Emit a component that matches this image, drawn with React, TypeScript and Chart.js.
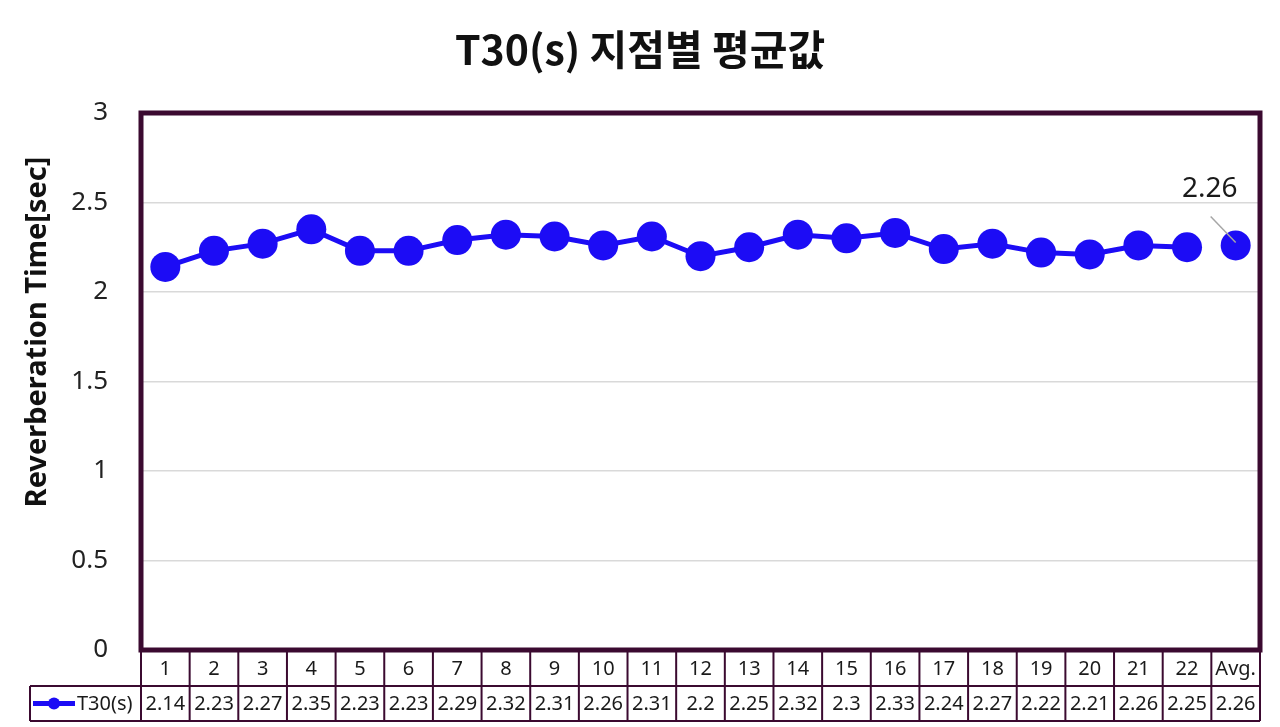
import React, { useEffect, useRef } from "react";
import { Chart, registerables } from "chart.js";

Chart.register(...registerables);

const categories = ["1","2","3","4","5","6","7","8","9","10","11","12","13","14","15","16","17","18","19","20","21","22","Avg."];
const pointValues = [2.14,2.23,2.27,2.35,2.23,2.23,2.29,2.32,2.31,2.26,2.31,2.2,2.25,2.32,2.3,2.33,2.24,2.27,2.22,2.21,2.26,2.25];
const avgValue = 2.26;
const tableValues = ["2.14","2.23","2.27","2.35","2.23","2.23","2.29","2.32","2.31","2.26","2.31","2.2","2.25","2.32","2.3","2.33","2.24","2.27","2.22","2.21","2.26","2.25","2.26"];
const seriesName = "T30(s)";
const chartTitle = "T30(s) 지점별 평균값";
const yTitle = "Reverberation Time[sec]";

const BLUE = "#1c0cf5";
const FRAME = "#3b0a30";
const FONT = "'Noto Sans', 'Noto Sans CJK KR', sans-serif";
const KFONT = "'Noto Sans CJK KR', 'Noto Sans', sans-serif";

const overlay = {
  id: "overlay",
  afterDraw(chart: any) {
    const { ctx, chartArea } = chart;
    const { left, right, top, bottom } = chartArea;
    const xs = chart.scales.x;
    const n = categories.length;
    const colW = (right - left) / n;
    ctx.save();

    // title
    ctx.fillStyle = "#111";
    ctx.font = `bold 41px ${KFONT}`;
    ctx.textAlign = "center";
    ctx.textBaseline = "middle";
    ctx.fillText(chartTitle, 640, 49);

    // y title
    ctx.save();
    ctx.translate(38, 332);
    ctx.rotate(-Math.PI / 2);
    ctx.font = `bold 29px ${FONT}`;
    ctx.fillText(yTitle, 0, 0);
    ctx.restore();

    // frame
    ctx.strokeStyle = FRAME;
    ctx.lineWidth = 5;
    ctx.strokeRect(left, top, right - left, bottom - top);

    // table
    const r1 = bottom;
    const r2 = 686;
    const r3 = 721;
    const tableLeft = 30;
    ctx.lineWidth = 2;
    ctx.beginPath();
    ctx.moveTo(tableLeft, r2);
    ctx.lineTo(right, r2);
    ctx.moveTo(tableLeft, r3);
    ctx.lineTo(right, r3);
    ctx.moveTo(tableLeft, r2);
    ctx.lineTo(tableLeft, r3);
    for (let i = 0; i <= n; i++) {
      const x = left + i * colW;
      ctx.moveTo(x, r1);
      ctx.lineTo(x, r3);
    }
    ctx.stroke();

    ctx.fillStyle = "#1a1a1a";
    ctx.font = `20px ${FONT}`;
    ctx.textAlign = "center";
    ctx.textBaseline = "middle";
    for (let i = 0; i < n; i++) {
      const cx = xs.getPixelForValue(i);
      ctx.fillText(categories[i], cx, (r1 + r2) / 2 + 1);
      ctx.fillText(tableValues[i], cx, (r2 + r3) / 2 + 1);
    }

    // legend key
    const ly = (r2 + r3) / 2;
    ctx.strokeStyle = BLUE;
    ctx.lineWidth = 5;
    ctx.beginPath();
    ctx.moveTo(33, ly);
    ctx.lineTo(75, ly);
    ctx.stroke();
    ctx.fillStyle = BLUE;
    ctx.beginPath();
    ctx.arc(54, ly, 6, 0, Math.PI * 2);
    ctx.fill();
    ctx.fillStyle = "#1a1a1a";
    ctx.textAlign = "left";
    ctx.fillText(seriesName, 77, ly + 1);

    // avg data label
    const pt = chart.getDatasetMeta(1).data[n - 1];
    if (pt) {
      const px = pt.x;
      const py = pt.y;
      ctx.strokeStyle = "#a6a6a6";
      ctx.lineWidth = 1.5;
      ctx.beginPath();
      ctx.moveTo(px - 25, py - 29);
      ctx.lineTo(px, py - 3);
      ctx.stroke();
      ctx.fillStyle = "#1a1a1a";
      ctx.font = `28px ${FONT}`;
      ctx.textAlign = "center";
      ctx.textBaseline = "middle";
      ctx.fillText(avgValue.toFixed(2), px - 26, py - 56);
    }
    ctx.restore();
  },
};

export default function App() {
  const ref = useRef<HTMLCanvasElement | null>(null);
  useEffect(() => {
    if (!ref.current) return;
    const lineData = [...pointValues, null];
    const avgData = [...pointValues.map(() => null), avgValue];
    const chart = new Chart(ref.current, {
      type: "line",
      data: {
        labels: categories,
        datasets: [
          {
            label: seriesName,
            data: lineData as any,
            borderColor: BLUE,
            backgroundColor: BLUE,
            borderWidth: 5,
            pointRadius: 15,
            pointBackgroundColor: BLUE,
            pointBorderWidth: 0,
            tension: 0,
          },
          {
            label: "Avg",
            data: avgData as any,
            showLine: false,
            borderColor: BLUE,
            backgroundColor: BLUE,
            pointRadius: 15,
            pointBackgroundColor: BLUE,
            pointBorderWidth: 0,
          },
        ],
      },
      options: {
        animation: false,
        responsive: true,
        maintainAspectRatio: false,
        layout: { padding: { top: 113, bottom: 77, right: 20, left: 0 } },
        plugins: {
          legend: { display: false },
          title: { display: false },
          tooltip: { enabled: false },
        },
        scales: {
          x: {
            type: "category",
            offset: true,
            display: false,
          },
          y: {
            min: 0,
            max: 3,
            ticks: {
              stepSize: 0.5,
              padding: 33,
              color: "#222",
              font: { size: 26, family: FONT },
              callback: (v: any) => String(Number(v)),
            },
            grid: { color: "#d9d9d9", lineWidth: 1.5, drawTicks: false },
            border: { display: false },
            afterFit: (scale: any) => {
              scale.width = 141;
            },
          },
        },
      },
      plugins: [overlay],
    });
    return () => chart.destroy();
  }, []);
  return (
    <div style={{ position: "absolute", left: 0, top: 0, width: 1280, height: 727, background: "#fff" }}>
      <canvas ref={ref} />
    </div>
  );
}
